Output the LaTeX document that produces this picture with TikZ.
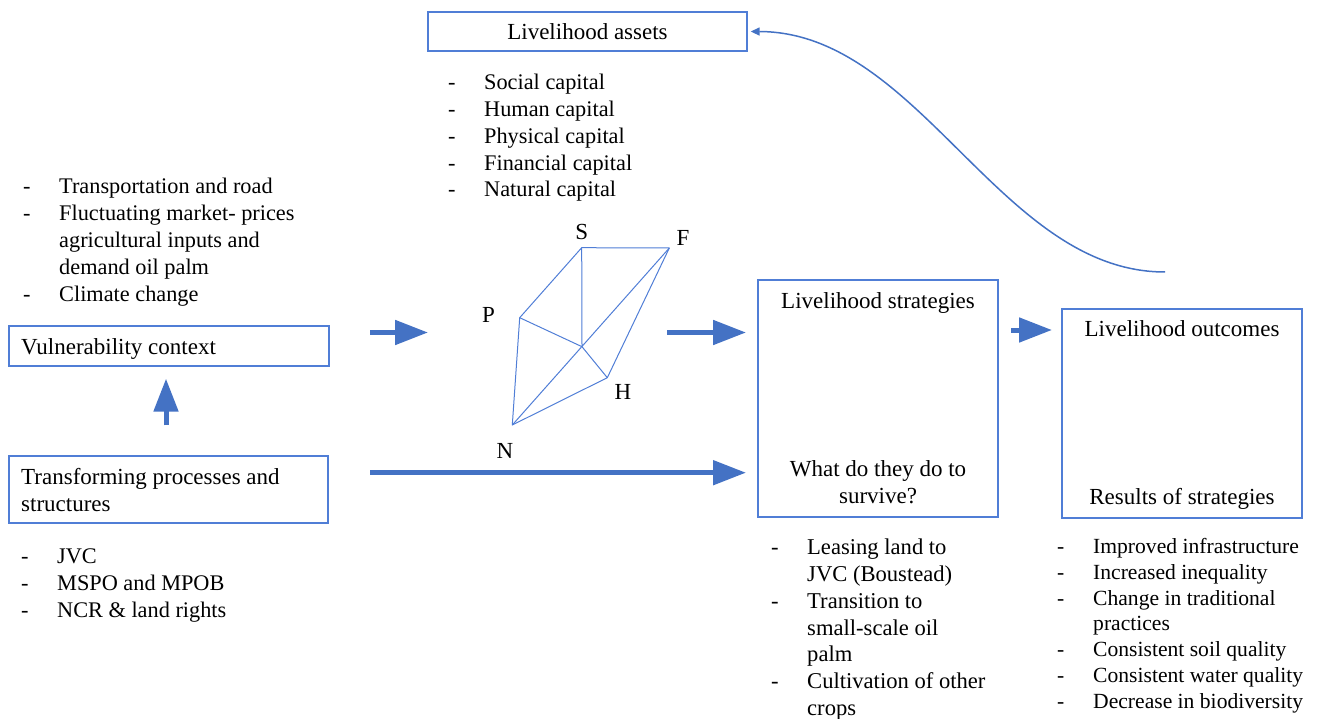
\documentclass[tikz,border=0pt]{standalone}
\usepackage{fontspec}
\setmainfont{Liberation Serif}
\usetikzlibrary{arrows.meta}
\definecolor{arrowblue}{RGB}{68,114,196}
\definecolor{boxblue}{RGB}{80,126,214}
\tikzset{
  frame/.style={draw=boxblue, line width=1.3pt, inner sep=0pt, minimum width=#1},
  txt/.style={inner sep=0pt, anchor=base west},
  ctxt/.style={inner sep=0pt, anchor=base},
  lbl/.style={inner sep=0pt, anchor=center},
  bigarrow/.style={draw=arrowblue, line width=5pt, -{Triangle[length=33pt,width=24pt]}},
  net/.style={draw=boxblue, line width=1pt, line join=round},
  curvearrow/.style={draw=arrowblue, line width=1.5pt, -{Triangle[length=9pt,width=8pt]}}
}
\newcommand{\lst}[3]{{\fontsize{#1}{#2}\selectfont\begin{tabular}[t]{@{}p{36pt}@{}l@{}}#3\end{tabular}}}
\newcommand{\twolines}[3]{{\fontsize{23}{27}\selectfont\begin{tabular}[t]{@{}#1@{}}#2\\ #3\end{tabular}}}
\begin{document}
\begin{tikzpicture}[x=1pt,y=-1pt,font=\fontsize{23}{26.4}\selectfont]
\useasboundingbox (0,0) rectangle (1319,719);

% boxes
\node[frame=319pt, minimum height=39pt] (assets) at (587.5,31.5) {};
\node[frame=320pt, minimum height=40pt] (vuln) at (169,346) {};
\node[frame=319pt, minimum height=67pt] (trans) at (168.5,489.5) {};
\node[frame=240pt, minimum height=237pt] (strat) at (878,398.5) {};
\node[frame=240pt, minimum height=209pt] (outc) at (1182,413.5) {};

% box texts
\node[ctxt] (assetsT) at (587.5,39.5) {Livelihood assets};
\node[txt] (vulnT) at (21,354.5) {Vulnerability context};
\node[txt] (transT) at (21,484.5) {\twolines{l}{Transforming processes and}{structures}};
\node[ctxt] (stratT) at (878,308.7) {Livelihood strategies};
\node[ctxt] (stratQ) at (878,476) {\twolines{c}{What do they do to}{survive?}};
\node[ctxt] (outcT) at (1182,336) {Livelihood outcomes};
\node[ctxt] (outcR) at (1182,504.5) {Results of strategies};

% lists
\node[txt] (assetsL) at (448,90) {\lst{22.3}{26.75}{-&Social capital\\ -&Human capital\\ -&Physical capital\\ -&Financial capital\\ -&Natural capital}};
\node[txt] (vulnL) at (23,194) {\lst{22.3}{27}{-&Transportation and road\\ -&Fluctuating market- prices\\ &agricultural inputs and\\ &demand oil palm\\ -&Climate change}};
\node[txt] (transL) at (21,563) {\lst{22.3}{27}{-&JVC\\ -&MSPO and MPOB\\ -&NCR \& land rights}};
\node[txt] (stratL) at (771,554.7) {\lst{22.6}{26.8}{-&Leasing land to\\ &JVC (Boustead)\\ -&Transition to\\ &small-scale oil\\ &palm\\ -&Cultivation of other\\ &crops}};
\node[txt] (outcL) at (1057,553.5) {\lst{21.6}{25.8}{-&Improved infrastructure\\ -&Increased inequality\\ -&Change in traditional\\ &practices\\ -&Consistent soil quality\\ -&Consistent water quality\\ -&Decrease in biodiversity}};

% asset pentagon
\coordinate (S) at (581.7,247.7);
\coordinate (F) at (669.3,248);
\coordinate (P) at (519.7,317.7);
\coordinate (C) at (582,346.7);
\coordinate (H) at (607.3,377.7);
\coordinate (N) at (512.3,425);
\draw[net] (P) -- (S) -- (F) -- (H) -- (N) -- cycle;
\draw[net] (S) -- (C) (P) -- (C) (F) -- (N) (C) -- (H);
\node[lbl] (Sl) at (581.7,231.5) {S};
\node[lbl] (Fl) at (683,238) {F};
\node[lbl] (Pl) at (488.5,314.5) {P};
\node[lbl] (Hl) at (623,391.5) {H};
\node[lbl] (Nl) at (505,450.5) {N};

% thick arrows
\coordinate (a1s) at (370,332.5);
\coordinate (a1e) at (428,332.5);
\coordinate (a2s) at (667,332.5);
\coordinate (a2e) at (746,332.5);
\coordinate (a3s) at (370,472.7);
\coordinate (a3e) at (746,472.7);
\coordinate (a4s) at (1011,330);
\coordinate (a4e) at (1052,330);
\draw[bigarrow] (a1s) -- (a1e);
\draw[bigarrow] (a2s) -- (a2e);
\draw[bigarrow] (a3s) -- (a3e);
\draw[bigarrow] (a4s) -- (a4e);
\draw[bigarrow, shorten <=30pt, shorten >=12pt] (trans.north -| 166,0) -- (vuln.south -| 166,0);

% feedback curve
\coordinate (cs) at (1165,272);
\draw[curvearrow] (cs) .. controls (1000,272) and (920,32) .. ([xshift=3pt]assets.east);
\end{tikzpicture}
\end{document}
